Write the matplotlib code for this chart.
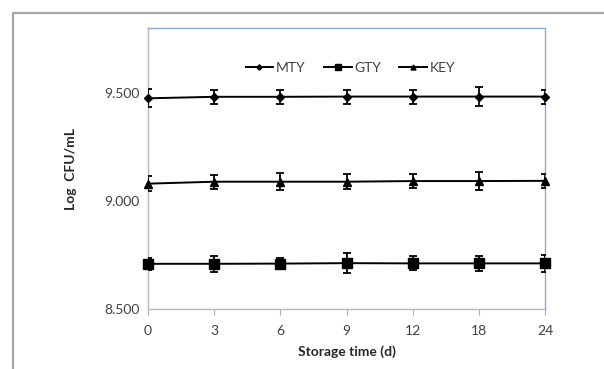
import matplotlib
matplotlib.use("Agg")
import matplotlib.pyplot as plt
from matplotlib.lines import Line2D

plt.rcParams['font.family'] = ['Lato', 'DejaVu Sans']

days = ["0", "3", "6", "9", "12", "18", "24"]
mty = [9.474, 9.481, 9.481, 9.482, 9.482, 9.482, 9.482]
mty_err = [0.042, 0.032, 0.033, 0.032, 0.032, 0.042, 0.032]
gty = [8.710, 8.710, 8.711, 8.713, 8.712, 8.712, 8.712]
gty_err = [0.029, 0.038, 0.027, 0.047, 0.032, 0.035, 0.039]
key = [9.080, 9.089, 9.089, 9.089, 9.092, 9.092, 9.093]
key_err = [0.034, 0.032, 0.040, 0.035, 0.031, 0.040, 0.032]
yticks = [8.5, 9.0, 9.5]

W, H = 604, 369
fig = plt.figure(figsize=(W / 100, H / 100), dpi=100)
ax = fig.add_axes([148 / W, 1 - 309.3 / H, (545 - 148) / W, (309.3 - 27.7) / H])

x = list(range(len(days)))
series = [("MTY", mty, mty_err, "D", 4.5),
          ("GTY", gty, gty_err, "s", 7),
          ("KEY", key, key_err, "^", 6)]
for name, vals, err, mk, ms in series:
    ax.errorbar(x, vals, yerr=err, fmt="none", ecolor="black", elinewidth=1.3,
                capsize=3, capthick=1.3, zorder=3)
    ax.plot(x, vals, color="black", lw=1.4, marker=mk, ms=ms, label=name,
            zorder=4, clip_on=False)

ax.set_xlim(0, len(days) - 1)
ax.set_ylim(8.5, 9.8)
ax.set_xticks(x)
ax.set_xticklabels(days)
ax.set_yticks(yticks)
ax.set_yticklabels([f"{v:.3f}" for v in yticks])
ax.tick_params(axis="x", length=4, width=0.8, color="#b0b0b0", labelsize=10,
               labelcolor="#404040", pad=7)
ax.tick_params(axis="y", length=0, labelsize=10, labelcolor="#404040", pad=6)

for s in ["left", "bottom"]:
    ax.spines[s].set_color("#b8b8b8")
    ax.spines[s].set_linewidth(1.0)
for s in ["top", "right"]:
    ax.spines[s].set_color("#8faad0")
    ax.spines[s].set_linewidth(1.0)

ax.set_xlabel("Storage time (d)", fontsize=10, fontweight="bold", color="#262626",
              labelpad=6)
ax.set_ylabel("Log  CFU/mL", fontsize=10, fontweight="bold", color="#262626",
              labelpad=20)

leg = ax.legend(loc="center", bbox_to_anchor=(0.51, 0.857), ncol=3, frameon=False,
                fontsize=10, handlelength=2.0, handletextpad=0.2,
                columnspacing=1.3, labelcolor="#404040", markerscale=0.6)

# outer frame
fig.add_artist(Line2D([12.5 / W, 12.5 / W, 1.0], [0.0, 1 - 12.5 / H, 1 - 12.5 / H],
                      transform=fig.transFigure, color="#a6a6a6", lw=1.6))

fig.savefig("out.png", dpi=100)
